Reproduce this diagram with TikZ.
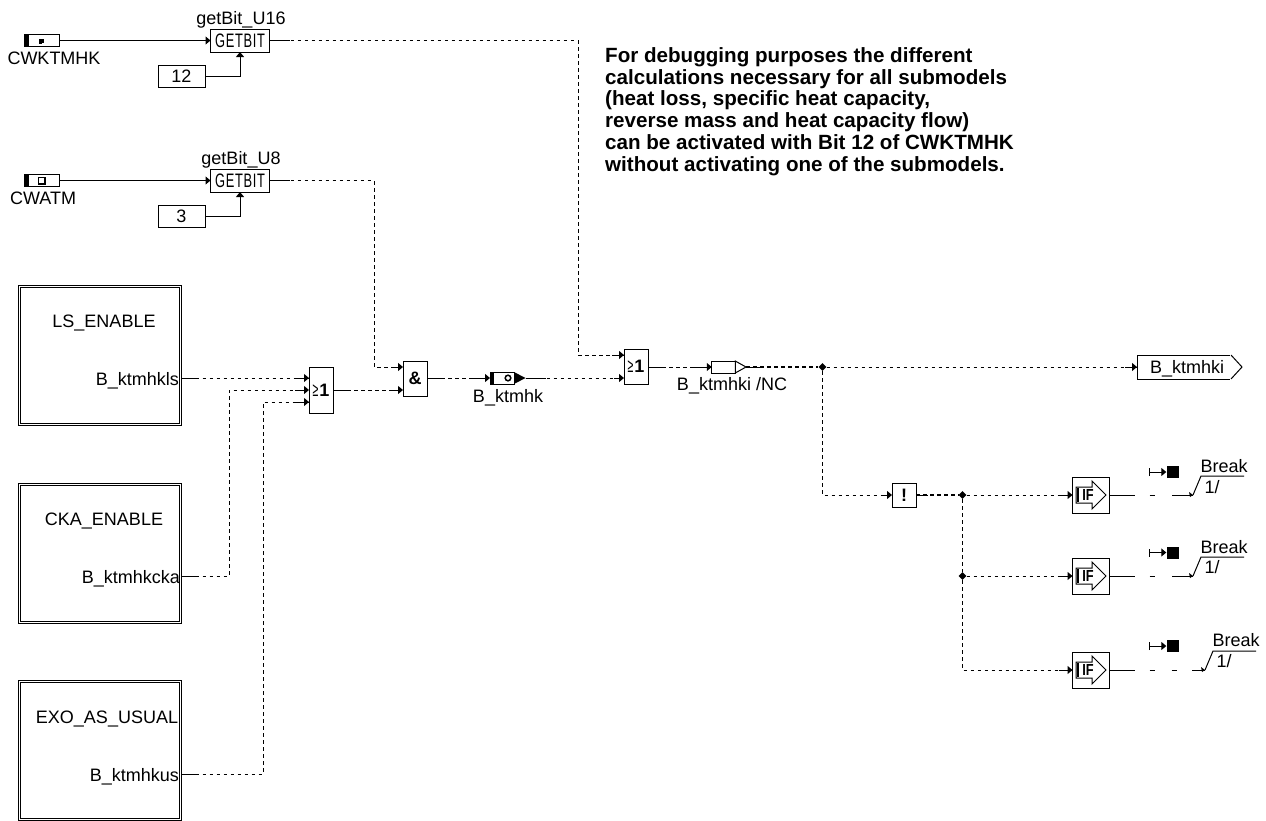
\documentclass[tikz,border=0pt]{standalone}
\usepackage{fontspec}
\setmainfont{Liberation Sans}
\usetikzlibrary{arrows.meta,calc,shapes.geometric}
\newcommand\fs[1]{\fontsize{#1}{#1}\selectfont}
\tikzset{
  x=1pt,y=-1pt,
  line width=1pt,
  box/.style={draw=black,fill=white,inner sep=0pt,outer sep=0pt,line width=1pt},
  dblbox/.style={draw=black,fill=white,inner sep=0pt,outer sep=0pt,double,double distance=1pt,line width=1pt,minimum width=161pt},
  lbl/.style={inner sep=0pt,outer sep=0pt,font=\fs{18},anchor=base},
  rlbl/.style={inner sep=0pt,outer sep=0pt,font=\fs{18},anchor=base east},
  wire/.style={draw=black,line width=1pt},
  dotwire/.style={draw=black,line width=1pt,dash pattern=on 3.5pt off 3.5pt},
  heavywire/.style={draw=black,line width=1.6pt,dash pattern=on 3.5pt off 3.5pt},
  arr/.style={-{Triangle[length=5pt,width=8pt]}},
  dotj/.style={fill=black,draw=none,diamond,minimum size=8pt,inner sep=0pt},
  gb/.style={box,minimum width=59pt,minimum height=23pt},
  const/.style={box,minimum width=47pt,minimum height=22pt,font=\fs{18}},
  ifbox/.style={box,minimum width=37pt,minimum height=36pt},
  gate/.style={box,minimum width=24pt},
}
\newcommand\gbtext{\fs{19.5}\scalebox{0.66}[1]{G\kern1pt E\kern1pt T\kern1pt B\kern1pt I\kern1pt T}}
\newcommand\gegate{\scalebox{0.62}[1.15]{\fs{17}≥}\kern1pt{\bfseries\fs{18}1}}
\newcommand\IfBlock[2]{%
  \node[ifbox] (#1) at (1091,#2) {};
  \draw[line width=1pt] ($(#1.center)+(-15,-8)$) -- ++(16,0) -- ++(0,-6) -- ++(14,14) -- ++(-14,14) -- ++(0,-6) -- ++(-16,0) -- cycle;
  \draw[line width=1.6pt] ($(#1.center)+(-13,-7)$) -- ++(0,14);
  \node[inner sep=0pt,font=\bfseries\fs{16}] at ($(#1.center)+(-3,0)$) {\scalebox{0.8}[1]{IF}};
}
\newcommand\StopMark[2]{%
  \node[fill=black,draw=none,minimum size=12pt,inner sep=0pt] (#1) at (1172.5,#2) {};
  \coordinate (#1s) at (1149,#2);
  \draw[wire,{Bar[width=8pt,length=1pt]}-{Triangle[length=5pt,width=8pt]}] (#1s) -- (#1.west);
}
\begin{document}
\begin{tikzpicture}
\useasboundingbox (0,0) rectangle (1266,820);
\fill[white] (0,0) rectangle (1266,820);

% --- CWKTMHK
\node[box,minimum width=35pt,minimum height=12.5pt] (cw1) at (41.5,40.5) {};
\fill[black] (cw1.north west) rectangle ($(cw1.south west)+(5,0)$);
\fill[black] (39,38.5) rectangle (44,42.5);\fill[black] (39,42) rectangle (42,44);
\node[lbl] (cw1l) at (54,64) {CWKTMHK};
\node[gb] (gb1) at (240,40.5) {\gbtext};
\node[lbl] (gb1l) at (241,24) {getBit\_U16};
\node[const] (k12) at (181.5,76) {12};
\draw[wire,arr] (cw1.east) -- (gb1.west);
\draw[wire,arr] (k12.east) -| (gb1.south);

% --- CWATM
\node[box,minimum width=35pt,minimum height=12.5pt] (cw2) at (41.5,180.5) {};
\fill[black] (cw2.north west) rectangle ($(cw2.south west)+(5,0)$);
\draw[line width=1.5pt] (38.5,177.5) rectangle (45,184);
\node[lbl] (cw2l) at (43,204) {CWATM};
\node[gb] (gb2) at (240,180.5) {\gbtext};
\node[lbl] (gb2l) at (241,164) {getBit\_U8};
\node[const] (k3) at (181.5,216) {3};
\draw[wire,arr] (cw2.east) -- (gb2.west);
\draw[wire,arr] (k3.east) -| (gb2.south);

% --- subsystem blocks
\node[dblbox,minimum height=138pt] (ls) at (100,355) {};
\node[lbl] (lsn) at (104,327) {LS\_ENABLE};
\node[rlbl] (lsp) at (179,385) {B\_ktmhkls};
\node[dblbox,minimum height=138pt] (cka) at (100,553) {};
\node[lbl] (ckan) at (104,525) {CKA\_ENABLE};
\node[rlbl] (ckap) at (180,583) {B\_ktmhkcka};
\node[dblbox,minimum height=138pt] (exo) at (100,750) {};
\node[lbl] (exon) at (107,723) {EXO\_AS\_USUAL};
\node[rlbl] (exop) at (179,781) {B\_ktmhkus};
\coordinate (lsout) at (181.5,378);
\coordinate (ckaout) at (181.5,576);
\coordinate (exoout) at (181.5,774);

% --- gates
\node[gate,minimum height=46pt] (or1) at (321,390) {\gegate};
\node[gate,minimum height=35pt] (and1) at (415,378.5) {\bfseries\fs{18}\&};
\node[gate,minimum height=35pt] (or2) at (636,366.5) {\gegate};
\coordinate (or1a) at (309,378);
\coordinate (or1b) at (309,390);
\coordinate (or1c) at (309,402);
\coordinate (anda) at (403,367);
\coordinate (andb) at (403,390);
\coordinate (or2a) at (624,355);
\coordinate (or2b) at (624,378);
\coordinate (or1o) at (333,390);
\coordinate (ando) at (427,378);
\coordinate (or2o) at (648,367);

% --- B_ktmhk message
\node[box,minimum width=24pt,minimum height=12pt] (msg) at (502,378) {};
\fill[black] (msg.north west) rectangle ($(msg.south west)+(4,0)$);
\fill[black] (msg.north east) -- (525.5,378) -- (msg.south east) -- cycle;
\draw[line width=1.5pt] (508,378) circle (2.8pt);
\node[lbl] (msgl) at (508,402) {B\_ktmhk};
\coordinate (msgo) at (525.5,378);

% --- B_ktmhki /NC
\node[box,minimum width=23.5pt,minimum height=12pt] (nc) at (723.5,367) {};
\draw[line width=1pt,fill=white] (nc.north east) -- (746,367) -- (nc.south east) -- cycle;
\coordinate (nco) at (746,367);
\node[lbl] (ncl) at (732,390) {B\_ktmhki /NC};
\node[dotj] (j1) at (822.5,367) {};

% --- output
\node[draw=black,fill=white,line width=1pt,inner sep=0pt,outer sep=0pt,minimum width=94pt,minimum height=24pt] (outb) at (1184,367) {};
\fill[white] (1230,354) rectangle (1233,380);
\draw[line width=1pt,fill=white] (1231,355) -- (1242,367) -- (1231,379);
\node[lbl] (outl) at (1187,373) {B\_ktmhki};

% --- not, ifs
\node[box,minimum size=24pt,font=\bfseries\fs{18}] (nt) at (904,495) {!};
\node[dotj] (j2) at (962.5,495) {};
\node[dotj] (j3) at (962.5,576) {};
\IfBlock{if1}{495}
\IfBlock{if2}{576}
\IfBlock{if3}{670}
\coordinate (r1) at (1193,495);
\coordinate (r2) at (1193,576);
\coordinate (r3) at (1205,670);

% --- wires
\draw[dotwire] (lsout) -- (or1a);
\draw[wire] (lsout) -- ++(14,0);
\draw[wire,arr] ($(or1a)+(-14,0)$) -- (or1a);
\draw[dotwire] (ckaout) -| (229,390) -- (or1b);
\draw[wire] (ckaout) -- ++(14,0);
\draw[wire,arr] ($(or1b)+(-14,0)$) -- (or1b);
\draw[dotwire] (exoout) -| (263,402) -- (or1c);
\draw[wire] (exoout) -- ++(14,0);
\draw[wire,arr] ($(or1c)+(-14,0)$) -- (or1c);

\draw[dotwire] (gb2.east) -| (374,367) -- (anda);
\draw[wire] (gb2.east) -- ++(20,0);
\draw[wire,arr] ($(anda)+(-10,0)$) -- (anda);
\draw[dotwire] (or1o) -- (andb);
\draw[wire] (or1o) -- ++(14,0);
\draw[wire,arr] ($(andb)+(-10,0)$) -- (andb);
\draw[dotwire] (ando) -- (msg.west);
\draw[wire] (ando) -- ++(14,0);
\draw[wire,arr] ($(msg.west)+(-20,0)$) -- (msg.west);
\draw[dotwire] (msgo) -- (or2b);
\draw[wire] (msgo) -- ++(20,0);
\draw[wire,arr] ($(or2b)+(-10,0)$) -- (or2b);
\draw[dotwire] (gb1.east) -| (578,355) -- (or2a);
\draw[wire] (gb1.east) -- ++(20,0);
\draw[wire,arr] ($(or2a)+(-12,0)$) -- (or2a);
\draw[dotwire] (or2o) -- (nc.west);
\draw[wire] (or2o) -- ++(14,0);
\draw[wire,arr] ($(nc.west)+(-18,0)$) -- (nc.west);
\draw[heavywire] (nco) -- (j1);
\draw[wire] (nco) -- ++(18,0);
\draw[dotwire] (j1) -- (outb.west);
\draw[wire,arr] ($(outb.west)+(-12,0)$) -- (outb.west);
\draw[dotwire] (j1) |- (nt.west);
\draw[wire,arr] ($(nt.west)+(-8,0)$) -- (nt.west);
\draw[heavywire] (nt.east) -- (j2);
\draw[wire] (nt.east) -- ++(12,0);
\draw[dotwire] (j2) -- (if1.west);
\draw[wire,arr] ($(if1.west)+(-14,0)$) -- (if1.west);
\draw[dotwire] (j2) -- (j3);
\draw[dotwire] (j3) -- (if2.west);
\draw[wire,arr] ($(if2.west)+(-14,0)$) -- (if2.west);
\draw[dotwire] (j3) |- (if3.west);
\draw[wire,arr] ($(if3.west)+(-14,0)$) -- (if3.west);

% --- if outputs: solid stub, a dash, solid end
\draw[wire] (if1.east) -- ++(25.5,0);
\draw[wire] ($(if1.east)+(40,0)$) -- ++(5,0);
\draw[wire] ($(r1)+(-21,0)$) -- (r1);
\draw[wire] (if2.east) -- ++(25.5,0);
\draw[wire] ($(if2.east)+(40,0)$) -- ++(5,0);
\draw[wire] ($(r2)+(-21,0)$) -- (r2);
\draw[wire] (if3.east) -- ++(25.5,0);
\draw[wire] ($(if3.east)+(40,0)$) -- ++(5,0);
\draw[wire] ($(if3.east)+(62,0)$) -- ++(5,0);
\draw[wire] ($(r3)+(-13,0)$) -- (r3);
\foreach \r/\tx/\ty in {r1/1201/476,r2/1201/557,r3/1213/651}{
  \draw[line width=1pt] (\r) -- (\tx,\ty) -- ++(43,0);
  \fill[black] (\r) -- ++(-4,-3) -- ++(1,5) -- cycle;
}
\node[lbl] (b1) at (1224,472) {Break};
\node[lbl] (b2) at (1224,553) {Break};
\node[lbl] (b3) at (1236,646) {Break};
\node[lbl] (o1) at (1212,493) {1/};
\node[lbl] (o2) at (1212,573) {1/};
\node[lbl] (o3) at (1224,667) {1/};
\StopMark{s1}{472}
\StopMark{s2}{552.5}
\StopMark{s3}{646}

% --- note
\node[anchor=north west,inner sep=0pt,align=left,font=\bfseries\fontsize{20.6}{21.9}\selectfont] (note) at (605,47) {For debugging purposes the different\\calculations necessary for all submodels\\(heat loss, specific heat capacity,\\reverse mass and heat capacity flow)\\can be activated with Bit 12 of CWKTMHK\\without activating one of the submodels.};
\end{tikzpicture}
\end{document}
